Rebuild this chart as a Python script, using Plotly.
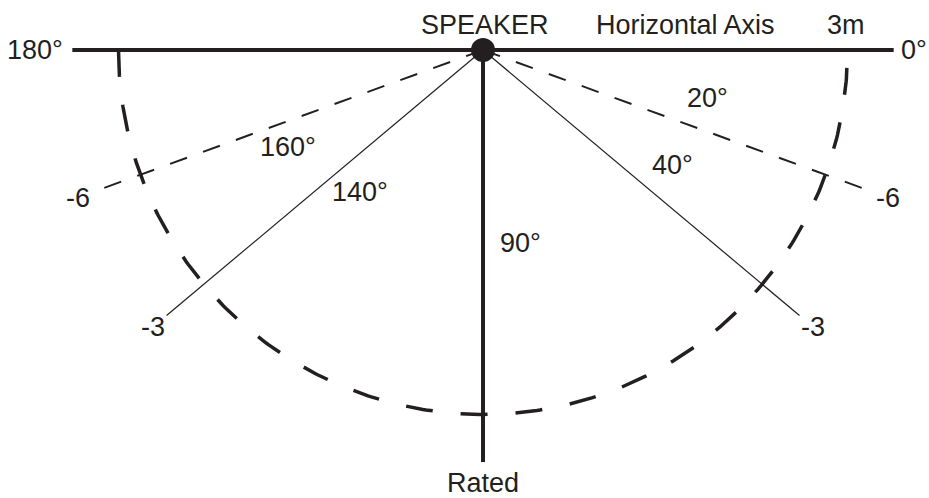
import numpy as np
import plotly.graph_objects as go

# ---- data ----
ray_angles = [20, 40, 140, 160]          # degrees off the horizontal axis
ray_levels = ["-6", "-3", "-3", "-6"]    # dB level at the end of each ray
angle_labels = ["20°", "40°", "140°", "160°"]
rated_radius = 3                          # metres (rated distance circle)
distance_label = "3m"

# ---- layout constants ----
W, H = 929, 498
S = 121.5                 # pixels per metre
CX, CY = 483, 50          # speaker position in pixels
INK = "#231f20"
FONT = "Liberation Sans, Arial, Helvetica, sans-serif"
FS = 27
AXIS_LEN = 3.38
RAY_LEN = 3.4
LEVEL_R = 3.55
# angle label offsets (metres, x right / y up)
angle_label_pos = {"20°": (1.844, -0.395), "40°": (1.556, -0.947),
                   "140°": (-1.012, -1.169), "160°": (-1.605, -0.798)}

def pt(r, deg):
    t = np.radians(deg)
    return r * np.cos(t), -r * np.sin(t)

fig = go.Figure()

# horizontal axis
fig.add_trace(go.Scatter(x=[-AXIS_LEN, AXIS_LEN], y=[0, 0], mode="lines",
                         line=dict(color=INK, width=4), hoverinfo="skip"))
# vertical (90°, rated) axis
fig.add_trace(go.Scatter(x=[0, 0], y=[0, -AXIS_LEN - 0.01], mode="lines",
                         line=dict(color=INK, width=4), hoverinfo="skip"))

# rated distance arc
th = np.linspace(180, 0, 361)
ax_, ay_ = pt(rated_radius, th)
fig.add_trace(go.Scatter(x=ax_, y=ay_, mode="lines",
                         line=dict(color=INK, width=3.5, dash="27px,28px"),
                         hoverinfo="skip"))

# rays
for ang, lev in zip(ray_angles, ray_levels):
    ex, ey = pt(RAY_LEN, ang)
    if lev == "-6":
        ln = dict(color=INK, width=2, dash="18px,17px")
    else:
        ln = dict(color=INK, width=1.2)
    fig.add_trace(go.Scatter(x=[0, ex], y=[0, ey], mode="lines", line=ln,
                             hoverinfo="skip"))
    lx, ly = pt(LEVEL_R, ang)
    fig.add_annotation(x=lx, y=ly, text=lev, showarrow=False,
                       xanchor="center", yanchor="middle")

# speaker
fig.add_trace(go.Scatter(x=[0], y=[0], mode="markers",
                         marker=dict(color=INK, size=24), hoverinfo="skip"))

for lab in angle_labels:
    x, y = angle_label_pos[lab]
    fig.add_annotation(x=x, y=y, text=lab, showarrow=False,
                       xanchor="center", yanchor="middle")

fig.add_annotation(x=0.12, y=-1.585, text="90°", showarrow=False,
                   xanchor="left", yanchor="middle")
fig.add_annotation(x=-3.44, y=0.0, text="180°", showarrow=False,
                   xanchor="right", yanchor="middle")
fig.add_annotation(x=3.42, y=0.0, text="0°", showarrow=False,
                   xanchor="left", yanchor="middle")
fig.add_annotation(x=0.015, y=0.205, text="SPEAKER", showarrow=False,
                   xanchor="center", yanchor="middle")
fig.add_annotation(x=1.663, y=0.205, text="Horizontal Axis", showarrow=False,
                   xanchor="center", yanchor="middle")
fig.add_annotation(x=rated_radius - 0.01, y=0.205, text=distance_label,
                   showarrow=False, xanchor="center", yanchor="middle")
fig.add_annotation(x=0.0, y=-3.56, text="Rated", showarrow=False,
                   xanchor="center", yanchor="middle")

fig.update_layout(
    width=W, height=H,
    margin=dict(l=0, r=0, t=0, b=0),
    paper_bgcolor="white", plot_bgcolor="white",
    showlegend=False,
    font=dict(family=FONT, size=FS, color=INK),
    xaxis=dict(range=[-CX / S, (W - CX) / S], visible=False, fixedrange=True),
    yaxis=dict(range=[-(H - CY) / S, CY / S], visible=False, fixedrange=True),
)

fig.write_html("out.html", config={"displayModeBar": False},
               post_script="document.body.style.margin='0';"
                           "document.body.style.overflow='hidden';")
